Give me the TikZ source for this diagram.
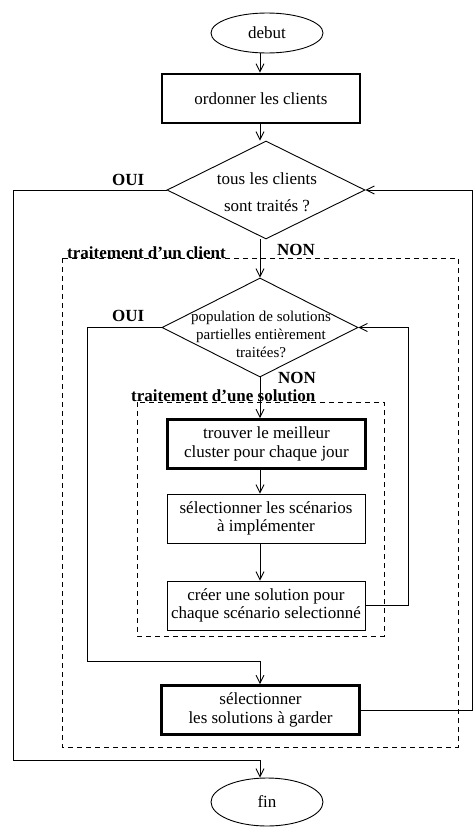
\documentclass[tikz,border=0pt]{standalone}
\usepackage{fontspec}
\setmainfont{Liberation Serif}
\usetikzlibrary{shapes.geometric,arrows.meta}

\begin{document}
\begin{tikzpicture}[%
      x=1pt, y=-1pt,
      >={Straight Barb[length=8pt,width=8pt]},
      every node/.style={font=\fontsize{17}{18.5}\selectfont},
      box/.style={draw, rectangle, line width=0.9pt, minimum width=198pt, minimum height=49pt, inner sep=0pt, align=center},
      thickbox/.style={box, line width=2.6pt},
      ends/.style={draw, ellipse, line width=0.9pt, minimum width=112pt, inner sep=0pt},
      decision/.style={draw, diamond, line width=0.9pt, inner sep=0pt},
      answer/.style={font=\fontsize{17}{18.5}\selectfont\bfseries, anchor=base west, inner sep=0pt},
      frame/.style={line width=0.9pt, dash pattern=on 5pt off 4pt},
      ]
      \useasboundingbox (0,0) rectangle (473,828);
      \coordinate (axis) at (260,0);

      % cadres en pointilles
      \draw[frame] (62,258) rectangle (458,747);
      \draw[frame] (137,402) rectangle (384,636);
      \node[answer] (client) at (67,258) {traitement d'un client};
      \node[answer] (solution) at (131,401) {traitement d'une solution};

      % debut et fin
      \node[ends, minimum height=40pt] (debut) at (267,33) {debut};
      \node[ends, minimum height=48pt] (fin) at (267,802) {fin};

      % etapes
      \node[thickbox] (ordonner) at (261,98.5) {ordonner les clients};
      \node[thickbox] (trouver) at (266.5,444) {trouver le meilleur\\cluster pour chaque jour};
      \node[box] (selscen) at (266,518.5) {sélectionner les scénarios\\à implémenter};
      \node[box] (creer) at (266,605.5) {créer une solution pour\\chaque scénario selectionné};
      \node[thickbox] (selsol) at (260.5,710) {sélectionner\\les solutions à garder};

      % tests
      \node[decision, minimum width=198pt, minimum height=98pt] (tous) at (266,190) {};
      \node[align=center, inner sep=0pt] (tousT) at (267,192) {tous les clients\\[8.5pt]sont traités ?};
      \node[decision, minimum width=196pt, minimum height=99pt] (pop) at (260,327.5) {};
      \node[align=center, inner sep=0pt, font=\fontsize{15}{18}\selectfont] (popT) at (261,334) {population de solutions\\partielles entièrement\\traitées?};

      \node[answer] (oui1) at (112,185) {OUI};
      \node[answer] (non1) at (277,255) {NON};
      \node[answer] (oui2) at (112,321) {OUI};
      \node[answer] (non2) at (278,383) {NON};

      % connecteurs
      \coordinate (ouiA) at (13,760);
      \coordinate (ouiB) at (87,661);
      \coordinate (boucleA) at (472,190);
      \coordinate (boucleB) at (408,327.5);
      \draw[line width=0.9pt, ->] (debut.south -| axis) -- (ordonner.north -| axis);
      \draw[line width=0.9pt, ->] (ordonner.south -| axis) -- (tous.north -| axis);
      \draw[line width=0.9pt, ->] (tous.south -| axis) -- (pop.north);
      \draw[line width=0.9pt, ->] (pop.south) -- (trouver.north -| axis);
      \draw[line width=0.9pt, ->] (trouver.south -| axis) -- (selscen.north -| axis);
      \draw[line width=0.9pt, ->] (selscen.south -| axis) -- (creer.north -| axis);
      \draw[line width=0.9pt, ->] (tous.west) -| (ouiA) -| (fin.north -| axis);
      \draw[line width=0.9pt, ->] (pop.west) -| (ouiB) -| (selsol.north -| axis);
      \draw[line width=0.9pt, ->] (selsol.east) -| (boucleA) -- (tous.east);
      \draw[line width=0.9pt, ->] (creer.east) -| (boucleB) -- (pop.east);
      \end{tikzpicture}
\end{document}
